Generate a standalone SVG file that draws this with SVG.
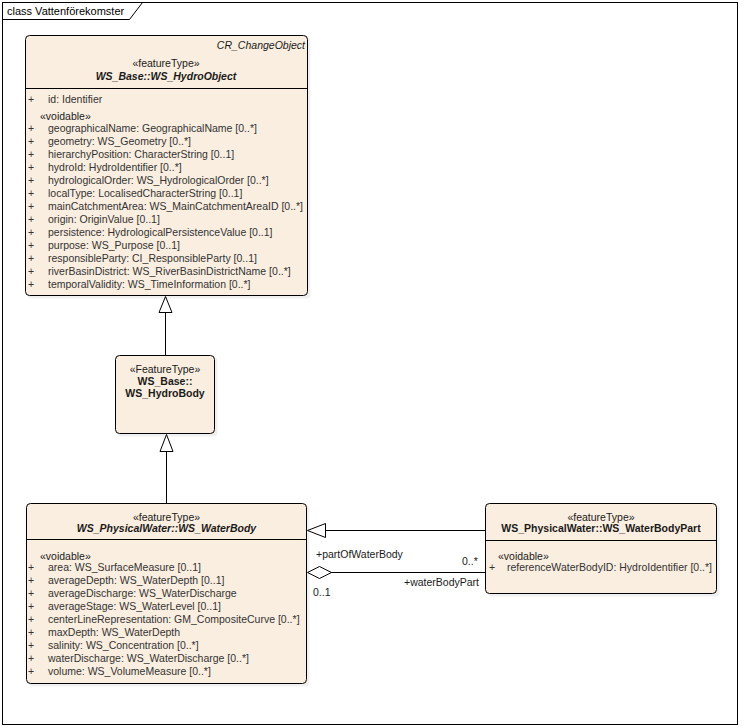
<svg xmlns="http://www.w3.org/2000/svg" width="742" height="727" viewBox="0 0 742 727">
<style>
text{font-family:"Liberation Sans",Arial,sans-serif;font-size:10.5px;fill:#1a1a1a}
.attr{fill:#333}
.st{text-anchor:middle}
.b{font-weight:bold}
.i{font-style:italic}
.box{fill:#FAEEE0;stroke:#000;stroke-width:1}
.sh{fill:#000;opacity:0.06}
.div{stroke:#000;stroke-width:1}
.conn{stroke:#000;stroke-width:1;fill:none}
.head{fill:#fff;stroke:#000;stroke-width:1}
</style>
<rect x="0" y="0" width="742" height="727" fill="#fff"/>
<g id="frame">
<rect x="2.5" y="2.5" width="735" height="722" fill="none" stroke="#000"/>
<path d="M2.5 19.5 H129.5 L142.5 2.5" fill="none" stroke="#000"/>
<text x="7" y="15" style="font-size:11px;fill:#000">class Vattenförekomster</text>
</g>
<g id="connectors">
<line class="conn" x1="165.5" y1="355" x2="165.5" y2="312"/>
<polygon class="head" points="165.5,296.5 159,312.5 172,312.5"/>
<line class="conn" x1="166.5" y1="503" x2="166.5" y2="452"/>
<polygon class="head" points="166.5,434.5 160,451.5 173,451.5"/>
<line class="conn" x1="485" y1="530.5" x2="325" y2="530.5"/>
<polygon class="head" points="307.5,530.5 325.5,523.5 325.5,537.5"/>
<line class="conn" x1="485" y1="572.5" x2="331" y2="572.5"/>
<polygon class="head" points="307.5,572.5 319.5,566.5 331.5,572.5 319.5,578.5"/>
<text x="316" y="558">+partOfWaterBody</text>
<text x="462" y="565">0..*</text>
<text x="404" y="586">+waterBodyPart</text>
<text x="313" y="596">0..1</text>
</g>
<g id="WS_HydroObject">
<rect class="sh" x="27.5" y="37.5" width="283" height="261" rx="4"/>
<rect class="box" x="25.5" y="35.5" width="282" height="260" rx="4"/>
<line class="div" x1="25.5" y1="88.5" x2="307.5" y2="88.5"/>
<text x="305" y="49" class="i" text-anchor="end">CR_ChangeObject</text>
<text x="166" y="67" class="st">«featureType»</text>
<text x="166" y="80" class="st b i">WS_Base::WS_HydroObject</text>
<text x="31" y="103" class="attr st">+</text><text x="48" y="103" class="attr">id: Identifier</text>
<text x="40" y="120">«voidable»</text>
<text x="31" y="132" class="attr st">+</text><text x="48" y="132" class="attr">geographicalName: GeographicalName [0..*]</text>
<text x="31" y="145" class="attr st">+</text><text x="48" y="145" class="attr">geometry: WS_Geometry [0..*]</text>
<text x="31" y="158" class="attr st">+</text><text x="48" y="158" class="attr">hierarchyPosition: CharacterString [0..1]</text>
<text x="31" y="171" class="attr st">+</text><text x="48" y="171" class="attr">hydroId: HydroIdentifier [0..*]</text>
<text x="31" y="184" class="attr st">+</text><text x="48" y="184" class="attr">hydrologicalOrder: WS_HydrologicalOrder [0..*]</text>
<text x="31" y="197" class="attr st">+</text><text x="48" y="197" class="attr">localType: LocalisedCharacterString [0..1]</text>
<text x="31" y="210" class="attr st">+</text><text x="48" y="210" class="attr">mainCatchmentArea: WS_MainCatchmentAreaID [0..*]</text>
<text x="31" y="223" class="attr st">+</text><text x="48" y="223" class="attr">origin: OriginValue [0..1]</text>
<text x="31" y="236" class="attr st">+</text><text x="48" y="236" class="attr">persistence: HydrologicalPersistenceValue [0..1]</text>
<text x="31" y="249" class="attr st">+</text><text x="48" y="249" class="attr">purpose: WS_Purpose [0..1]</text>
<text x="31" y="262" class="attr st">+</text><text x="48" y="262" class="attr">responsibleParty: CI_ResponsibleParty [0..1]</text>
<text x="31" y="275" class="attr st">+</text><text x="48" y="275" class="attr">riverBasinDistrict: WS_RiverBasinDistrictName [0..*]</text>
<text x="31" y="288" class="attr st">+</text><text x="48" y="288" class="attr">temporalValidity: WS_TimeInformation [0..*]</text>
</g>
<g id="WS_HydroBody">
<rect class="sh" x="117.5" y="357.5" width="100" height="79" rx="4"/>
<rect class="box" x="115.5" y="355.5" width="99" height="78" rx="4"/>
<text x="165" y="373" class="st">«FeatureType»</text>
<text x="165" y="385" class="st b">WS_Base::</text>
<text x="165" y="397" class="st b">WS_HydroBody</text>
</g>
<g id="WS_WaterBody">
<rect class="sh" x="28.5" y="505.5" width="281" height="181" rx="4"/>
<rect class="box" x="26.5" y="503.5" width="280" height="180" rx="4"/>
<line class="div" x1="26.5" y1="539.5" x2="306.5" y2="539.5"/>
<text x="166.5" y="521" class="st">«featureType»</text>
<text x="166.5" y="532" class="st b i">WS_PhysicalWater::WS_WaterBody</text>
<text x="40" y="560">«voidable»</text>
<text x="31" y="571" class="attr st">+</text><text x="48" y="571" class="attr">area: WS_SurfaceMeasure [0..1]</text>
<text x="31" y="584" class="attr st">+</text><text x="48" y="584" class="attr">averageDepth: WS_WaterDepth [0..1]</text>
<text x="31" y="597" class="attr st">+</text><text x="48" y="597" class="attr">averageDischarge: WS_WaterDischarge</text>
<text x="31" y="610" class="attr st">+</text><text x="48" y="610" class="attr">averageStage: WS_WaterLevel [0..1]</text>
<text x="31" y="623" class="attr st">+</text><text x="48" y="623" class="attr">centerLineRepresentation: GM_CompositeCurve [0..*]</text>
<text x="31" y="636" class="attr st">+</text><text x="48" y="636" class="attr">maxDepth: WS_WaterDepth</text>
<text x="31" y="649" class="attr st">+</text><text x="48" y="649" class="attr">salinity: WS_Concentration [0..*]</text>
<text x="31" y="662" class="attr st">+</text><text x="48" y="662" class="attr">waterDischarge: WS_WaterDischarge [0..*]</text>
<text x="31" y="675" class="attr st">+</text><text x="48" y="675" class="attr">volume: WS_VolumeMeasure [0..*]</text>
</g>
<g id="WS_WaterBodyPart">
<rect class="sh" x="487.5" y="505.5" width="232" height="91" rx="4"/>
<rect class="box" x="485.5" y="503.5" width="231" height="90" rx="4"/>
<line class="div" x1="485.5" y1="540.5" x2="716.5" y2="540.5"/>
<text x="601" y="521" class="st">«featureType»</text>
<text x="601" y="532" class="st b">WS_PhysicalWater::WS_WaterBodyPart</text>
<text x="498" y="560">«voidable»</text>
<text x="492" y="571" class="attr st">+</text><text x="507" y="571" class="attr">referenceWaterBodyID: HydroIdentifier [0..*]</text>
</g>
</svg>
